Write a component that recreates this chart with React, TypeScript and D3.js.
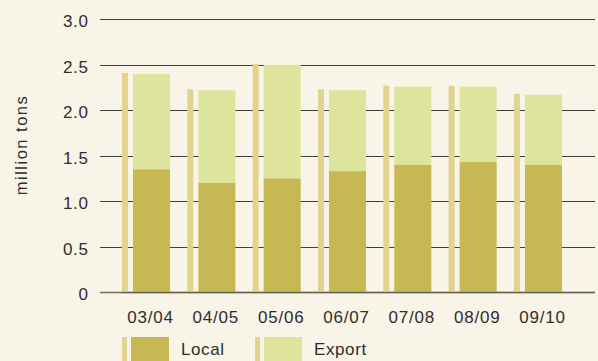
import React from "react";
import * as d3 from "d3";

// Seasons and tonnage (million tons)
const seasons = ["03/04", "04/05", "05/06", "06/07", "07/08", "08/09", "09/10"];
const localTons = [1.35, 1.2, 1.25, 1.33, 1.4, 1.43, 1.4];
const exportTons = [1.05, 1.02, 1.25, 0.89, 0.86, 0.83, 0.77];
const yTicks = [0, 0.5, 1.0, 1.5, 2.0, 2.5, 3.0];
const seriesNames = ["Local", "Export"];

const W = 598;
const H = 361;
const BG = "#f8f4e7";
const LOCAL = "#c6b853";
const EXPORT = "#dde49b";
const STRIPE = "#e2d48e";
const TEXT = "#2e2e2e";
const FONT = "'Liberation Sans', Arial, Helvetica, sans-serif";

export default function App() {
  const y = d3.scaleLinear().domain([0, 3]).range([292, 19.4]);
  const x = d3.scaleBand<string>().domain(seasons).range([133, 562]).paddingInner(0.433).paddingOuter(0);
  const bw = x.bandwidth();

  const stacked = seasons.map((s, i) => ({
    s,
    local: localTons[i],
    total: localTons[i] + exportTons[i],
  }));

  const legendX = [131, 264];
  const legendColors = [LOCAL, EXPORT];

  return (
    <svg width={W} height={H} style={{ display: "block", position: "absolute", left: 0, top: 0, background: BG }}>
      <rect x={0} y={0} width={W} height={H} fill={BG} />
      {/* gridlines */}
      {yTicks.map((t) => (
        <line key={t} x1={100} x2={595} y1={Math.round(y(t)) + 0.5} y2={Math.round(y(t)) + 0.5}
          stroke={t === 0 ? "#6f6c60" : "#3e3e3a"} strokeWidth={t === 0 ? 1.6 : 1.2} />
      ))}
      {/* tick labels */}
      {yTicks.map((t) => (
        <text key={"l" + t} x={88.5} y={y(t) + 8} textAnchor="end" fontFamily={FONT} fontSize={17}
          letterSpacing={0.6} fill={TEXT}>
          {t === 0 ? "0" : t.toFixed(1)}
        </text>
      ))}
      <text transform="translate(27,145) rotate(-90)" textAnchor="middle" fontFamily={FONT} fontSize={16.5}
        letterSpacing={1.5} fill={TEXT}>million tons</text>
      {/* bars */}
      {stacked.map((d) => {
        const x0 = x(d.s)!;
        return (
          <g key={d.s}>
            <rect x={x0 - 11} y={y(d.total) - 1} width={6} height={y(0) - y(d.total) + 1} fill={STRIPE} />
            <rect x={x0} y={y(d.total)} width={bw} height={y(d.local) - y(d.total)} fill={EXPORT} />
            <rect x={x0} y={y(d.local)} width={bw} height={y(0) - y(d.local)} fill={LOCAL} />
          </g>
        );
      })}
      {/* baseline over bars */}
      <line x1={x(seasons[0])! - 12} x2={595} y1={y(0) + 0.5} y2={y(0) + 0.5} stroke="#5f5a40" strokeOpacity={0.6} strokeWidth={1.6} />
      {/* category labels */}
      {seasons.map((s) => (
        <text key={"c" + s} x={x(s)! + bw / 2 - 1} y={323} textAnchor="middle" fontFamily={FONT} fontSize={17}
          letterSpacing={0.8} fill={TEXT}>{s}</text>
      ))}
      {/* legend */}
      {seriesNames.map((n, i) => (
        <g key={n}>
          <rect x={legendX[i] - 9} y={337} width={5} height={24} fill={STRIPE} />
          <rect x={legendX[i]} y={337} width={38} height={24} fill={legendColors[i]} />
          <text x={legendX[i] + 50} y={355} fontFamily={FONT} fontSize={17} letterSpacing={0.6} fill={TEXT}>{n}</text>
        </g>
      ))}
    </svg>
  );
}
